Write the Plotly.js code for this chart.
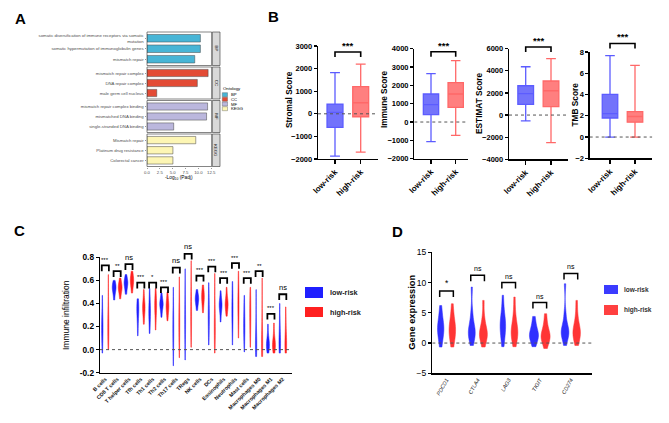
<!DOCTYPE html>
<html><head><meta charset="utf-8">
<script src="https://cdn.plot.ly/plotly-3.0.1.min.js"></script>
<style>html,body{margin:0;padding:0;background:#fff}#chart{width:669px;height:423px}</style>
</head><body><div id="chart"></div>
<script>
// ================= DATA =================
// Panel A: enrichment (-log10 Padj)
const ontologies = ['BP','CC','MF','KEGG'];
const ontologyColors = ['#48b5d6','#e34b35','#bbb7dd','#fdf6b4'];
const termsBP = ['somatic diversification of immune receptors via somatic<br>mutation','somatic hypermutation of immunoglobulin genes','mismatch repair'];
const padjBP = [10.4, 10.4, 9.3];
const termsCC = ['mismatch repair complex','DNA repair complex','male germ cell nucleus'];
const padjCC = [11.9, 9.8, 1.9];
const termsMF = ['mismatch repair complex binding','mismatched DNA binding','single-stranded DNA binding'];
const padjMF = [11.8, 11.6, 5.2];
const termsKEGG = ['Mismatch repair','Platinum drug resistance','Colorectal cancer'];
const padjKEGG = [9.5, 5.05, 5.05];
const aTicks = [0, 2.5, 5, 7.5, 10, 12.5];
const aTickText = ['0.0','2.5','5.0','7.5','10.0','12.5'];

// Panel B: box plots [low-risk, high-risk]
const riskGroups = ['low-risk','high-risk'];
const bTitles = ['Stromal Score','Immune Score','ESTIMAT Score','TMB Score'];
const bMin = [[-1870,-1700],[-1070,-730],[-530,-2500],[0,0]];
const bQ1  = [[-600,-130],[400,800],[970,760],[1.79,1.4]];
const bMed = [[60,490],[945,1530],[1930,2200],[2.2,1.93]];
const bQ3  = [[430,1200],[1530,2145],[2650,3080],[4.02,2.4]];
const bMax = [[1820,2200],[2636,3345],[4370,5100],[7.65,6.75]];
const bSig = ['***','***','***','***'];
const bSigLevel = [2735, 3836, 6150, 8.8];

// Panel C: immune infiltration samples (estimated)
const cellTypes = ['B cells','CD8 T cells','T helper cells','Tfh cells','Th1 cells','Th2 cells','Th17 cells','TRegs','NK cells','DCs','Eosinophils','Neutrophils','Mast cells','Macrophages M0','Macrophages M1','Macrophages M2'];
const cellLow = [
  [-0.03,0.06,0.12,0.16,0.19,0.22,0.26,0.33,0.47],
  [0.43,0.48,0.51,0.53,0.54,0.55,0.57,0.60],
  [0.48,0.52,0.55,0.57,0.58,0.59,0.61,0.65],
  [0.12,0.22,0.29,0.33,0.35,0.37,0.40,0.44],
  [0.14,0.22,0.28,0.32,0.34,0.37,0.42,0.53],
  [0.28,0.34,0.37,0.39,0.40,0.41,0.44,0.49],
  [-0.14,-0.02,0.08,0.14,0.18,0.22,0.28,0.38,0.54],
  [-0.09,0.05,0.15,0.21,0.25,0.29,0.36,0.48,0.70],
  [0.34,0.39,0.42,0.44,0.45,0.47,0.52],
  [0.04,0.14,0.22,0.26,0.29,0.32,0.38,0.46,0.58],
  [0.24,0.32,0.36,0.38,0.39,0.41,0.44,0.51],
  [0.04,0.16,0.25,0.30,0.33,0.36,0.42,0.50,0.59],
  [-0.02,0.08,0.15,0.19,0.21,0.24,0.30,0.38,0.47],
  [-0.06,-0.02,0.02,0.04,0.06,0.10,0.18,0.32,0.52],
  [-0.03,0.00,0.03,0.04,0.05,0.08,0.12,0.22],
  [-0.03,0.01,0.04,0.05,0.07,0.11,0.18,0.27,0.40]
];
const cellHigh = [
  [0.00,0.08,0.14,0.18,0.21,0.25,0.32,0.45,0.65],
  [0.44,0.49,0.52,0.53,0.54,0.56,0.58,0.62],
  [0.49,0.54,0.57,0.59,0.60,0.62,0.64,0.68],
  [0.22,0.29,0.33,0.36,0.37,0.39,0.43,0.52],
  [0.17,0.27,0.33,0.37,0.39,0.41,0.45,0.53],
  [0.25,0.31,0.35,0.37,0.38,0.40,0.44,0.50],
  [-0.07,0.05,0.14,0.20,0.24,0.28,0.35,0.46,0.63],
  [0.02,0.14,0.23,0.29,0.33,0.37,0.45,0.58,0.77],
  [0.32,0.38,0.42,0.45,0.46,0.48,0.51,0.56],
  [-0.03,0.07,0.14,0.18,0.21,0.25,0.33,0.46,0.66],
  [0.29,0.34,0.37,0.39,0.40,0.42,0.46,0.54],
  [0.10,0.22,0.30,0.36,0.39,0.42,0.48,0.56,0.68],
  [0.02,0.12,0.21,0.26,0.30,0.34,0.40,0.46,0.54],
  [-0.06,-0.02,0.02,0.04,0.06,0.11,0.20,0.36,0.62],
  [-0.03,0.00,0.03,0.04,0.05,0.08,0.13,0.23],
  [-0.03,0.00,0.03,0.04,0.06,0.10,0.16,0.25,0.37]
];
const cellSig = ['***','**','ns','***','*','***','ns','ns','***','***','***','***','***','**','***','ns'];
const cellSigLevel = [0.73,0.68,0.74,0.58,0.58,0.54,0.71,0.83,0.64,0.72,0.62,0.75,0.62,0.68,0.31,0.48];

// Panel D: immune checkpoint gene expression samples (estimated)
const genes = ['PDCD1','CTLA4','LAG3','TIGIT','CD274'];
const geneLow = [
  [-0.66,0.5,1.3,1.9,2.3,2.6,3.1,3.8,4.8,6.2],
  [-0.4,0.6,1.2,1.6,1.8,2.1,2.7,3.6,5.2,9.25],
  [-0.6,0.6,1.5,2.3,2.8,3.1,3.6,4.4,5.6,7.9],
  [-0.6,0.2,0.7,1.1,1.3,1.5,1.9,2.5,3.3,4.4],
  [-0.4,0.7,1.3,1.6,1.8,2.1,2.6,3.4,5.0,9.8]
];
const geneHigh = [
  [-0.66,0.4,1.1,1.7,2.1,2.5,3.0,3.7,4.8,6.5],
  [-0.66,0.4,0.9,1.3,1.5,1.8,2.3,3.1,4.4,7.05],
  [-0.6,0.5,1.1,1.5,1.8,2.2,2.8,3.7,5.1,7.6],
  [-0.9,0.1,0.6,0.9,1.1,1.4,1.8,2.5,3.4,4.85],
  [-0.4,0.5,1.1,1.5,1.8,2.1,2.6,3.4,4.8,7.05]
];
const geneSig = ['*','ns','ns','ns','ns'];
const geneSigLevel = [8.6,11.2,10.0,6.7,11.5];

// ================= LAYOUT HELPERS =================
const W = 669, H = 423;
const FF = 'Liberation Sans, Arial, sans-serif';
const fx = p => p / W;
const fy = p => 1 - p / H;
const ydom = (top, bot) => [fy(bot), fy(top)];
const LOW = '#1f1fff', HIGH = '#ff2020';

const traces = [];
const shapes = [];
const annotations = [];
const layout = {
  width: W, height: H, margin: {l:0, r:0, t:0, b:0},
  paper_bgcolor: '#ffffff', plot_bgcolor: 'rgba(0,0,0,0)',
  showlegend: false, font: {family: FF, color: '#000'},
  hovermode: false
};

function txt(x, y, text, opt) {
  annotations.push(Object.assign({xref:'paper', yref:'paper', x: fx(x), y: fy(y), text: text,
    showarrow:false, xanchor:'center', yanchor:'middle', font:{family:FF, size:8, color:'#000'}}, opt || {}));
}
function rect(x0, y0, x1, y1, fill, line, lw) {
  shapes.push({type:'rect', xref:'paper', yref:'paper', x0: fx(x0), x1: fx(x1), y0: fy(y0), y1: fy(y1),
    fillcolor: fill, line: {color: line || fill, width: lw === undefined ? 0 : lw}, layer:'above'});
}
// hidden y-axis sharing the scale of a visible one but reaching higher, for significance marks
let sigAxisN = 11;
function sigAxis(xa, topPx, botPx, range, extraPx) {
  const n = sigAxisN++;
  const perPx = (range[1] - range[0]) / (botPx - topPx);
  layout['yaxis' + n] = {domain: ydom(topPx - extraPx, botPx), range:[range[0], range[1] + extraPx * perPx],
    anchor: xa, visible:false, showgrid:false, zeroline:false, fixedrange:true};
  return 'y' + n;
}
function bracket(xa, ya, centers, tops, half, leg, lw) {
  const xs = [], ys = [];
  centers.forEach((c, i) => {
    xs.push(c - half, c - half, c + half, c + half, null);
    ys.push(tops[i] - leg, tops[i], tops[i], tops[i] - leg, null);
  });
  traces.push({type:'scatter', mode:'lines', x: xs, y: ys, xaxis: xa, yaxis: ya,
    line:{color:'#000', width: lw}, hoverinfo:'skip', showlegend:false});
}
function dotted(xa, ya, xr) {
  traces.push({type:'scatter', mode:'lines', x: xr, y: [0, 0], xaxis: xa, yaxis: ya,
    line:{color:'#555', width:1, dash:'dot'}, hoverinfo:'skip', showlegend:false});
}
const prismAxis = {showline:true, linecolor:'#000', linewidth:1.3, ticks:'outside', ticklen:3,
  tickwidth:1.3, tickcolor:'#000', showgrid:false, zeroline:false};

// ================= PANEL A =================
const aTerms = [termsBP, termsCC, termsMF, termsKEGG];
const aVals = [padjBP, padjCC, padjMF, padjKEGG];
const aFacets = [[32,65.5],[67,99],[100.5,132.5],[134,166.5]];
layout.xaxis = {domain:[fx(147), fx(211.7)], range:[0, 12.6], anchor:'y4',
  tickvals: aTicks, ticktext: aTickText, ticks:'outside', ticklen:1.5, tickwidth:0.5, tickcolor:'#333',
  tickfont:{size:4.3, color:'#4d4d4d', family:FF}, showgrid:false, zeroline:false, showline:false};
aFacets.forEach((f, k) => {
  const yname = k === 0 ? 'yaxis' : 'yaxis' + (k + 1);
  const yref = k === 0 ? 'y' : 'y' + (k + 1);
  layout[yname] = {domain: ydom(f[0], f[1]), range:[2.6, -0.6], anchor:'x',
    tickvals:[0,1,2], ticktext: aTerms[k], ticks:'outside', ticklen:1.5, tickwidth:0.5, tickcolor:'#333',
    tickfont:{size:4.3, color:'#4d4d4d', family:FF}, showgrid:false, zeroline:false, showline:false};
  traces.push({type:'bar', orientation:'h', x: aVals[k], y:[0,1,2], xaxis:'x', yaxis: yref, width:0.72,
    marker:{color: ontologyColors[k], line:{color:'#444', width:0.5}}, hoverinfo:'skip', showlegend:false});
  shapes.push({type:'rect', xref:'x domain', yref: yref + ' domain', x0:0, x1:1, y0:0, y1:1,
    line:{color:'#333', width:0.6}, fillcolor:'rgba(0,0,0,0)', layer:'above'});
  rect(212.3, f[0], 220, f[1], '#d9d9d9', '#333', 0.6);
  txt(216.2, (f[0] + f[1]) / 2, ontologies[k], {textangle:90, font:{family:FF, size:4.3, color:'#1a1a1a'}});
});
txt(179, 178, '-Log<sub>10</sub> (Padj)', {font:{family:FF, size:4.8, color:'#000'}});
txt(221.5, 89, 'Ontology', {xanchor:'left', font:{family:FF, size:4.3, color:'#000'}});
[94.7, 99.3, 104, 108.7].forEach((yc, k) => {
  rect(222.3, yc - 2, 227.5, yc + 2, ontologyColors[k], '#555', 0.4);
  txt(229, yc, ontologies[k], {xanchor:'left', font:{family:FF, size:4.2, color:'#000'}});
});

// ================= PANEL B =================
const bXpx = [[318,378],[414.3,468.3],[509,568.3],[589.7,652.3]];
const bCatPx = [[335,360.7],[431,455.7],[525.7,551],[610,635]];
const bYpx = [[46,159],[48.7,158.7],[48.7,159.3],[52,158.3]];
const bRange = [[-2000,3000],[-2000,4000],[-4000,6000],[-2,8]];
const bDtick = [1000,1000,2000,2];
const bTitlePos = [[289,100],[384,99],[479,103],[574.5,105]];
const boxLine = ['#5c5cff','#ff6868'];
const boxFill = ['rgba(90,90,250,0.85)','rgba(255,105,105,0.85)'];
for (let p = 0; p < 4; p++) {
  const xi = p + 2, yi = p + 5;
  const xa = 'x' + xi, ya = 'y' + yi;
  const sp = bCatPx[p][1] - bCatPx[p][0];
  const xr = [(bXpx[p][0] - bCatPx[p][0]) / sp, (bXpx[p][1] - bCatPx[p][0]) / sp];
  layout['xaxis' + xi] = Object.assign({}, prismAxis, {domain:[fx(bXpx[p][0]), fx(bXpx[p][1])], range: xr,
    anchor: ya, tickvals:[0,1], ticktext: riskGroups, tickangle:-45, ticklen:4,
    tickfont:{family:FF, size:8, weight:'bold', color:'#000'}});
  layout['yaxis' + yi] = Object.assign({}, prismAxis, {domain: ydom(bYpx[p][0], bYpx[p][1]), range: bRange[p],
    anchor: xa, dtick: bDtick[p], tick0:0, tickfont:{family:FF, size:7.5, weight:'bold', color:'#000'}});
  dotted(xa, ya, xr);
  for (let g = 0; g < 2; g++) {
    traces.push({type:'box', x:[g], q1:[bQ1[p][g]], median:[bMed[p][g]], q3:[bQ3[p][g]],
      lowerfence:[bMin[p][g]], upperfence:[bMax[p][g]], xaxis: xa, yaxis: ya, width:0.62, whiskerwidth:0.62,
      boxpoints:false, fillcolor: boxFill[g], line:{color: boxLine[g], width:1.3}, hoverinfo:'skip', showlegend:false});
  }
  const sy = sigAxis(xa, bYpx[p][0], bYpx[p][1], bRange[p], 30);
  const pxPerUnit = (bYpx[p][1] - bYpx[p][0]) / (bRange[p][1] - bRange[p][0]);
  bracket(xa, sy, [0.5], [bSigLevel[p]], 0.5, 5 / pxPerUnit, 1.6);
  annotations.push({xref: xa, yref: sy, x:0.5, y: bSigLevel[p], text: bSig[p], showarrow:false,
    yanchor:'bottom', yshift:-1, font:{family:FF, size:9.5, weight:'bold', color:'#000'}});
  txt(bTitlePos[p][0], bTitlePos[p][1], bTitles[p], {textangle:-90, font:{family:FF, size:8.3, weight:'bold', color:'#000'}});
}

// ================= PANEL C =================
function violinTrace(samples, offset, color, xa, ya, width) {
  const xs = [], ys = [];
  samples.forEach((arr, i) => arr.forEach(v => { xs.push(i + offset); ys.push(v); }));
  return {type:'violin', orientation:'v', x: xs, y: ys, xaxis: xa, yaxis: ya, width: width,
    scalemode:'width', spanmode:'hard', points:false, box:{visible:false}, meanline:{visible:false},
    fillcolor: color, line:{color: color, width:0.5}, hoverinfo:'skip', showlegend:false};
}
const cRange = [-0.45, 15.78];
const cYpx = [257.3, 372.7];
layout.xaxis6 = Object.assign({}, prismAxis, {domain:[fx(100), fx(292)], range: cRange, anchor:'y9',
  tickvals: cellTypes.map((_, i) => i), ticktext: cellTypes, ticks:'', tickangle:-45,
  tickfont:{family:FF, size:5.3, weight:'bold', color:'#111'}});
layout.yaxis9 = Object.assign({}, prismAxis, {domain: ydom(cYpx[0], cYpx[1]), range:[-0.2, 0.8], anchor:'x6',
  tickvals:[-0.2,0,0.2,0.4,0.6,0.8], ticktext:['-0.2','0.0','0.2','0.4','0.6','0.8'],
  tickfont:{family:FF, size:8.3, weight:'bold', color:'#000'}});
dotted('x6', 'y9', cRange);
traces.push(violinTrace(cellLow, -0.254, LOW, 'x6', 'y9', 0.32));
traces.push(violinTrace(cellHigh, 0.254, HIGH, 'x6', 'y9', 0.32));
const cSy = sigAxis('x6', cYpx[0], cYpx[1], [-0.2, 0.8], 30);
bracket('x6', cSy, cellTypes.map((_, i) => i), cellSigLevel, 0.3, 0.05, 1.8);
cellSig.forEach((s, i) => annotations.push({xref:'x6', yref: cSy, x:i, y: cellSigLevel[i], text:s, showarrow:false,
  yanchor:'bottom', yshift: 0.5, font:{family:FF, size: s === 'ns' ? 7.5 : 6, color:'#000'}}));
txt(66, 315, 'Immune infiltration', {textangle:-90, font:{family:FF, size:8.5, color:'#000'}});
rect(305, 287, 323, 298, LOW);
rect(305, 307, 323, 317, HIGH);
txt(328, 292.5, 'low-risk', {xanchor:'left', font:{family:FF, size:7.3, weight:'bold', color:'#222'}});
txt(328, 312, 'high-risk', {xanchor:'left', font:{family:FF, size:7.3, weight:'bold', color:'#222'}});

// ================= PANEL D =================
const dRange = [-0.457, 4.68];
const dYpx = [252.3, 373.3];
layout.xaxis7 = Object.assign({}, prismAxis, {domain:[fx(432.3), fx(592)], range: dRange, anchor:'y10',
  tickvals: genes.map((_, i) => i), ticktext: genes, ticks:'', tickangle:-60,
  tickfont:{family:FF, size:5.5, style:'italic', color:'#222'}});
layout.yaxis10 = Object.assign({}, prismAxis, {domain: ydom(dYpx[0], dYpx[1]), range:[-5, 15], anchor:'x7',
  tickvals:[-5,0,5,10,15], tickfont:{family:FF, size:8.5, color:'#000'}});
dotted('x7', 'y10', dRange);
traces.push(violinTrace(geneLow, -0.187, '#2f2fff', 'x7', 'y10', 0.29));
traces.push(violinTrace(geneHigh, 0.187, '#ff3535', 'x7', 'y10', 0.29));
const dSy = sigAxis('x7', dYpx[0], dYpx[1], [-5, 15], 30);
bracket('x7', dSy, genes.map((_, i) => i), geneSigLevel, 0.22, 1.0, 1.5);
geneSig.forEach((s, i) => annotations.push({xref:'x7', yref: dSy, x:i, y: geneSigLevel[i], text:s, showarrow:false,
  yanchor:'bottom', yshift: 1, font:{family:FF, size: s === 'ns' ? 7 : 8.5, color:'#000'}}));
txt(411.7, 312, 'Gene expression', {textangle:-90, font:{family:FF, size:9.3, weight:'bold', color:'#000'}});
rect(604, 285, 618, 294, '#3b3bff', '#3b3bff', 0);
rect(604, 305, 618, 315, '#ff4040', '#ff4040', 0);
txt(622, 289.5, 'low-risk', {xanchor:'left', font:{family:FF, size:6.5, weight:'bold', color:'#333'}});
txt(622, 310, 'high-risk', {xanchor:'left', font:{family:FF, size:6.5, weight:'bold', color:'#333'}});

// ================= PANEL LETTERS =================
[['A',20,18.3],['B',273,16.7],['C',19.5,230],['D',397,231]].forEach(l =>
  txt(l[1], l[2], l[0], {font:{family:FF, size:15, weight:'bold', color:'#000'}}));

layout.shapes = shapes;
layout.annotations = annotations;
Plotly.newPlot('chart', traces, layout, {staticPlot:true, displayModeBar:false});
</script>
</body></html>
